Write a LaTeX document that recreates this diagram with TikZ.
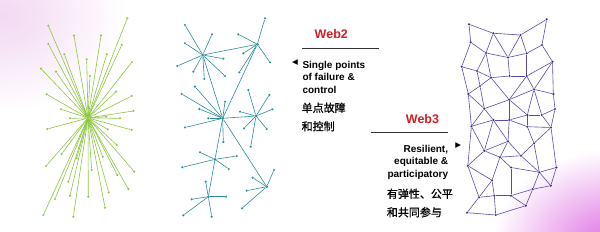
\documentclass[tikz,border=0pt]{standalone}
\usepackage{fontspec}
\setmainfont{Liberation Sans}
\newfontfamily\cjk[FakeBold=0.8]{Noto Sans CJK SC}
\newfontfamily\symfont{DejaVu Sans}
\usepackage{xcolor}
\usepackage{tikz}
\usetikzlibrary{calc,positioning}
\definecolor{figLime}{HTML}{8DC63F}
\definecolor{figTeal}{HTML}{2B8C9C}
\definecolor{figIndigo}{HTML}{5A4AA8}
\definecolor{figIndigoDot}{HTML}{3D2A85}
\definecolor{figRed}{HTML}{D11F26}
\definecolor{figRule}{HTML}{333333}
\definecolor{bgPink}{HTML}{E27EE6}
\definecolor{bgLilac}{HTML}{F3DAF3}
\pgfdeclareradialshading{glowBR}{\pgfpoint{0bp}{0bp}}{color(0bp)=(bgPink); color(5bp)=(bgPink!85!white); color(20bp)=(white); color(25bp)=(white); color(50bp)=(white)}
\pgfdeclareradialshading{glowTL}{\pgfpoint{0bp}{0bp}}{color(0bp)=(bgLilac); color(6bp)=(bgLilac!80!white); color(21bp)=(white); color(25bp)=(white); color(50bp)=(white)}

\begin{document}
\begin{tikzpicture}[
  x=1pt, y=-1pt,
  gdot/.style={circle, fill=figLime, inner sep=0pt, minimum size=2.4pt},
  gline/.style={draw=figLime, line width=0.6pt},
  tdot/.style={circle, fill=figTeal, inner sep=0pt, minimum size=#1},
  tdot/.default=2.4pt,
  tline/.style={draw=figTeal, line width=0.6pt},
  mdot/.style={circle, fill=figIndigoDot, inner sep=0pt, minimum size=2.4pt},
  mline/.style={draw=figIndigo, line width=0.6pt},
  webtitle/.style={font=\fontsize{12.5}{14}\selectfont\bfseries, text=figRed, inner sep=0pt},
  entext/.style={font=\fontsize{10}{12.6}\selectfont\bfseries, inner sep=0pt},
  cntext/.style={font=\cjk\fontsize{11}{18.5}\selectfont, inner sep=0pt, align=left},
  marker/.style={font=\symfont\fontsize{7.5}{7.5}\selectfont, inner sep=0pt},
  rule/.style={draw=figRule, line width=0.8pt},
]
\useasboundingbox (0,0) rectangle (600,232);

% Background glow
\fill[white] (0,0) rectangle (600,232);
\begin{scope}
  \clip (0,0) rectangle (600,232);
  \shade[shading=glowBR] (612,246) ellipse (150 and 120);
  \shade[shading=glowTL] (0,15) ellipse (150 and 115);
\end{scope}

% Centralised star (left)
\node[gdot, minimum size=3pt] (gc) at (88,118) {};
\foreach \x/\y [count=\i] in {
  127.3/18.3, 48.3/25.7, 74/35.7, 101/35.7, 48.3/44, 121.7/45, 64.3/54.3,
  106.7/54.3, 86.7/59.3, 41/68.7, 56/71.7, 132/62, 90/76, 116/91.7,
  46.7/94.3, 131.7/96, 61/109.3, 133.3/111, 70/118.3, 106/116.7, 120/118.3,
  47.3/129, 131.7/130, 107.7/129.3, 116.7/145, 61.7/154, 46/166, 76.7/158.3,
  102.7/156.7, 91.7/170, 134.3/171.7, 117.3/175, 68.3/181.7, 128.3/189,
  108.7/192.3, 88.3/196.7, 70/195.7, 55/199, 105/207.7, 73.3/216.7, 43.3/215}
{
  \node[gdot] (g\i) at (\x,\y) {};
  \draw[gline] (gc) -- (g\i);
}

% Decentralised clusters (middle)
\node[tdot=3pt] (ta) at (202.7,55) {};
\node[tdot=3pt] (tb) at (257.3,44.3) {};
\node[tdot=3.2pt] (tc) at (222.7,118.3) {};
\node[tdot=3pt] (td) at (256,116) {};
\node[tdot=3pt] (te) at (215,159.3) {};
\node[tdot=3pt] (tf) at (208.3,196.7) {};
\node[tdot=3pt] (tg) at (266.7,186.7) {};
\foreach \a/\b in {ta/tb, ta/tc, tb/tc, tc/td, tc/te, te/tf, tc/tg}
  \draw[tline] (\a) -- (\b);

\foreach \hub/\pts in {
  ta/{185/25, 212/34.3, 185/43.3, 223.3/58.7, 177.3/66, 193.3/71.7, 204.3/79, 225/76},
  tb/{265/18.3, 238.3/34.3, 243.3/53.3, 270/62.3, 239.3/72.3},
  tc/{195/86.7, 181.7/94, 225/101.7, 199.3/109, 208.3/118.3, 185/127.5, 223.3/142},
  td/{248.3/90, 269.3/95, 240/111.7, 272.3/109.3, 244/128.3, 266.7/129, 250.7/146.7},
  te/{200/152.3, 236.7/156, 182.3/167.3, 228.7/169},
  tf/{205.7/181.7, 191.7/199.3, 226/196.7, 183.3/215.3, 211.7/216.7},
  tg/{274/170, 252.7/177.7, 246.7/190.7, 242/208.3}}
{
  \foreach \x/\y [count=\i] in \pts {
    \node[tdot] (\hub\i) at (\x,\y) {};
    \draw[tline] (\hub) -- (\hub\i);
  }
}

% Distributed mesh (right)
\foreach \x/\y [count=\i] in {
  469/24.3, 546.7/19.3, 493.3/33.3, 520.5/35, 470.7/42.3, 542/45, 486/53,
  526.7/53.3, 508/57.5, 552.5/61.7, 461.7/66.7, 477/71, 491/77.7, 509.5/76,
  526.7/76, 480/86, 534/89.3, 468.3/94, 553.3/94, 509.2/99.7, 484.3/108.7,
  555/109, 527.3/115, 541.7/115, 493.3/120, 509.2/120, 471.4/126.3,
  527.3/126.7, 551/127.5, 508/141.3, 534/143.3, 484.3/150.8, 500/157.2,
  521/155.7, 556.3/167.5, 467.8/165.7, 511/167.5, 539.3/172.3, 492/180.3,
  550.8/185.7, 532.7/189.2, 479/197.3, 494.3/195.7, 511/195.7, 525.8/205.7,
  467/212.7, 495.7/215}
  \node[mdot] (m\i) at (\x,\y) {};
\foreach \a/\b in {
  1/3, 3/4, 4/2, 1/5, 2/6, 3/7, 3/9, 4/9, 4/8, 5/7, 6/8, 6/10, 7/9, 9/8,
  5/11, 7/12, 7/13, 9/14, 8/15, 10/15, 10/17, 10/19, 11/12, 12/13, 13/14,
  14/15, 11/18, 12/16, 13/16, 13/20, 15/17, 15/20, 16/18, 16/21, 17/19,
  17/20, 17/23, 17/24, 18/21, 18/27, 19/22, 20/21, 20/26, 20/23, 21/25,
  21/27, 22/24, 22/29, 23/24, 25/26, 26/23, 23/28, 24/29, 25/27, 25/30,
  25/32, 26/28, 26/30, 28/29, 28/31, 29/31, 29/35, 27/32, 27/36, 30/32,
  30/33, 30/34, 31/34, 31/38, 32/33, 32/36, 33/34, 33/39, 34/38, 33/37,
  35/38, 35/40, 38/40, 38/41, 37/44, 39/42, 39/43, 36/42, 42/43, 43/44,
  44/41, 41/40, 44/45, 41/45, 42/46, 43/47, 46/47, 47/45, 36/39, 37/38}
  \draw[mline] (m\a) -- (m\b);

% Web2 caption
\node[webtitle] (web2) at (331.3,34) {Web2};
\coordinate (r2a) at (302.3,48.3);
\coordinate (r2b) at (379,48.3);
\draw[rule] (r2a) -- (r2b);
\node[marker] (mk2) at (295,62.7) {◀};
\node[entext, align=left, anchor=north west] (en2) at (302.3,60.6)
  {Single points\\of failure \&\\control};
\node[cntext, anchor=north west] (cn2) at (301.5,102.5)
  {单点故障\\和控制};

% Web3 caption
\node[webtitle] (web3) at (422.5,119) {Web3};
\coordinate (r3a) at (371,132.3);
\coordinate (r3b) at (448.3,132.3);
\draw[rule] (r3a) -- (r3b);
\node[marker] (mk3) at (458.3,146) {▶};
\node[entext, align=right, anchor=north east] (en3) at (448.3,144.6)
  {Resilient,\\equitable \&\\participatory};
\node[cntext, anchor=north west] (cn3) at (386.7,188.5)
  {有弹性、公平\\和共同参与};

\end{tikzpicture}
\end{document}
